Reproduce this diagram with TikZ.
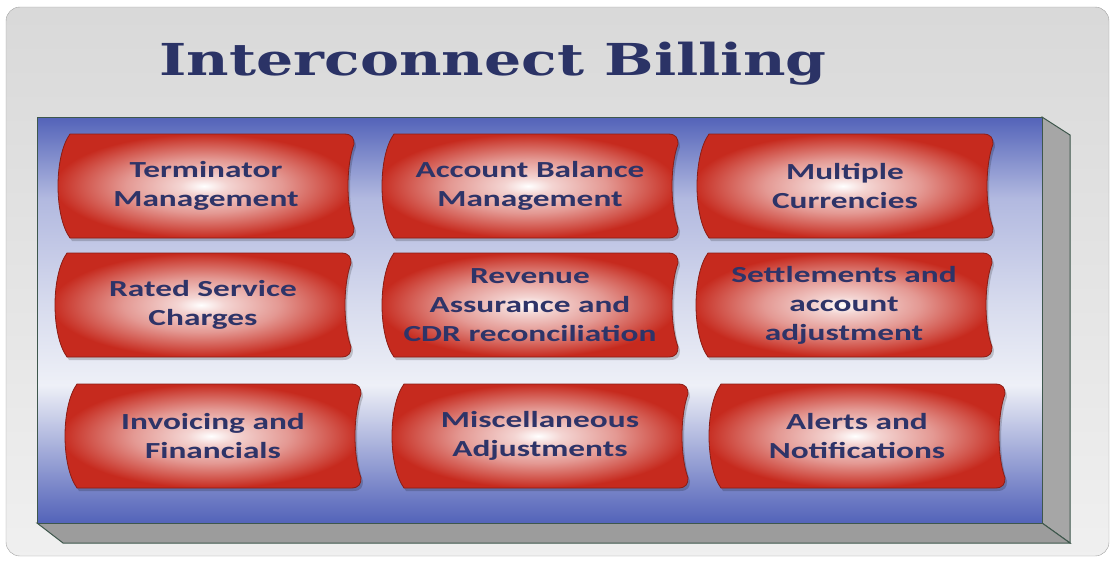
\documentclass[tikz,border=0pt]{standalone}
\usepackage{fontspec}
\setmainfont{Carlito}
\newfontfamily\titlefont{DejaVu Serif}[FakeStretch=1.33]
\newfontfamily\labelfont{Carlito}[FakeStretch=1.45]
\usetikzlibrary{calc,positioning}

\definecolor{titleblue}{HTML}{2B3366}
\definecolor{labelblue}{HTML}{2E3468}
\definecolor{panelblue}{HTML}{5363B9}
\definecolor{panellight}{HTML}{EEF0F7}
\definecolor{boxred}{HTML}{C62A1E}
\definecolor{bevelgray}{HTML}{9C9C9C}
\definecolor{edgegreen}{HTML}{3E574C}
\definecolor{framegray}{HTML}{A0A0A0}

% the path box is mapped on the middle 25bp--75bp of a shading
\pgfdeclareverticalshading{panelglow}{100bp}{color(0bp)=(panelblue); color(25bp)=(panelblue); color(29bp)=(panelblue!80!white); color(42bp)=(panellight); color(52bp)=(panellight!85!panelblue); color(65bp)=(panelblue!45!white); color(75bp)=(panelblue); color(100bp)=(panelblue)}
\pgfdeclareradialshading{boxglow}{\pgfpoint{0bp}{0bp}}{color(0bp)=(white); color(4bp)=(white!80!boxred); color(13bp)=(boxred!48!white); color(20bp)=(boxred!78!white); color(25bp)=(boxred); color(50bp)=(boxred)}

% outline of one feature box, centred on (0,0)
\newcommand{\featoutline}{(-136,-52) -- (138,-52) .. controls (146,-52) and (148,-48) .. (148,-42)
  .. controls (140,-20) and (140,20) .. (148,42) .. controls (148,48) and (146,52) .. (138,52)
  -- (-136,52) .. controls (-152,30) and (-152,-30) .. (-136,-52) -- cycle}

\tikzset{
  titletext/.style={text=titleblue, font=\titlefont\bfseries\fontsize{44}{52}\selectfont, anchor=base},
  featshape/.style={shading=boxglow, draw=boxred!70!black, line width=0.8pt},
  featshadow/.style={fill=black, opacity=0.18},
  feattext/.style={text=labelblue, align=center, font=\labelfont\bfseries\fontsize{23}{29}\selectfont},
  bevel/.style={fill=bevelgray, draw=edgegreen, line width=1pt}
}

\begin{document}
\begin{tikzpicture}[x=1pt, y=-1pt]
    \useasboundingbox (0,0) rectangle (1113,560);

    % outer frame
    \shade[top color=gray!30, bottom color=gray!12, draw=framegray, rounded corners=14pt]
        (6,7) rectangle (1109,556);
    \node[titletext] (title) at (493,75) {Interconnect Billing};

    % panel with bevel
    \draw[bevel, fill=bevelgray!90!white] (1042,117) -- (1070,135) -- (1070,543) -- (1042,523) -- cycle;
    \draw[bevel] (37,523) -- (1042,523) -- (1070,543) -- (63,543) -- cycle;
    \shade[shading=panelglow, draw=edgegreen, line width=1pt] (37,117) rectangle (1042,523);

    % feature boxes
    \foreach \nm/\cx/\cy/\txt in {
        term/206/186/{Terminator\\Management},
        acct/530/186/{Account Balance\\Management},
        curr/845/186/{Multiple\\Currencies},
        rated/203/305/{Rated Service\\Charges},
        rev/530/305/{Revenue\\Assurance and\\CDR reconciliation},
        settle/844/305/{Settlements and\\account\\adjustment},
        inv/213/436/{Invoicing and\\Financials},
        misc/540/436/{Miscellaneous\\Adjustments},
        alert/857/436/{Alerts and\\Notifications}} {
        \begin{scope}[shift={(\cx,\cy)}]
            \fill[featshadow, shift={(2,3)}] \featoutline;
            \shade[featshape] \featoutline;
        \end{scope}
        \node[feattext] (\nm) at (\cx,\cy) {\txt};
    }
\end{tikzpicture}
\end{document}
